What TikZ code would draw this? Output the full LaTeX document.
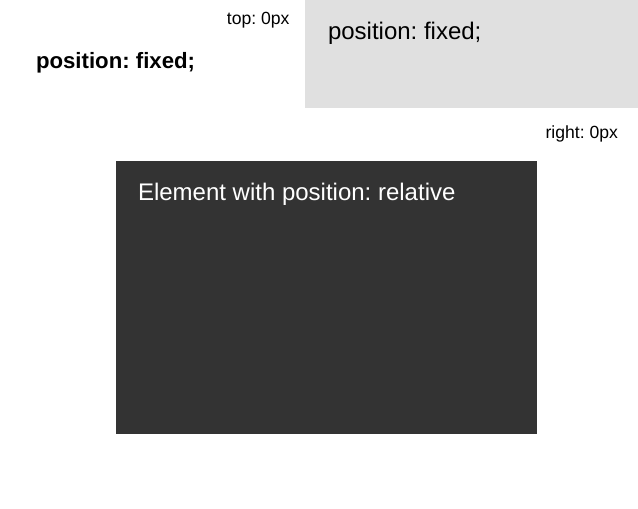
\documentclass[tikz,border=0pt]{standalone}
\usepackage{fontspec}
\setmainfont{Liberation Sans}
\definecolor{lightbox}{HTML}{E0E0E0}
\definecolor{darkbox}{HTML}{333333}
\frenchspacing
\begin{document}
\begin{tikzpicture}[x=1pt,y=-1pt,
  lbl/.style={inner sep=0pt,outer sep=0pt,text=black},
  small/.style={lbl,font=\frenchspacing\fontsize{17.6}{20}\selectfont},
  big/.style={lbl,font=\frenchspacing\fontsize{24}{28}\selectfont},
  bigbold/.style={lbl,font=\frenchspacing\fontsize{22.2}{26}\selectfont\bfseries}]
\useasboundingbox[fill=white] (0,0) rectangle (638,509);
\fill[lightbox] (305,0) rectangle (638,108);
\fill[darkbox] (116,161) rectangle (537,434);
\node[big,anchor=base west] (fixedbox) at (328,39.5) {position: fixed;};
\node[small,anchor=base east] (top) at (289.5,24) {top: 0px};
\node[bigbold,anchor=base west] (fixedlabel) at (36,68) {position: fixed;};
\node[small,anchor=base east] (right) at (618,138) {right: 0px};
\node[big,anchor=base west,text=white] (rel) at (138,200.5) {Element with position: relative};
\end{tikzpicture}
\end{document}
